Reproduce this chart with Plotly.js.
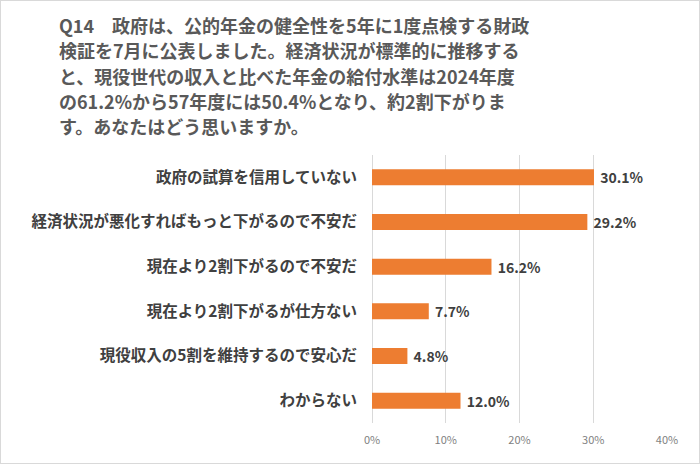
<!DOCTYPE html>
<html><head><meta charset="utf-8">
<script src="https://cdn.plot.ly/plotly-3.0.1.min.js"></script>
<style>
html,body{margin:0;padding:0;background:#fff;}
#chart{width:698px;height:462px;border:1px solid #d9d9d9;}
</style></head>
<body><div id="chart"></div>
<script>
const titleLines = [
  "Q14　政府は、公的年金の健全性を5年に1度点検する財政",
  "検証を7月に公表しました。経済状況が標準的に推移する",
  "と、現役世代の収入と比べた年金の給付水準は2024年度",
  "の61.2%から57年度には50.4%となり、約2割下がりま",
  "す。あなたはどう思いますか。"
];
const categories = [
  "政府の試算を信用していない",
  "経済状況が悪化すればもっと下がるので不安だ",
  "現在より2割下がるので不安だ",
  "現在より2割下がるが仕方ない",
  "現役収入の5割を維持するので安心だ",
  "わからない"
];
const values = [0.301, 0.292, 0.162, 0.077, 0.048, 0.120];
const tickVals = [0, 0.1, 0.2, 0.3, 0.4];

const font = '"Noto Sans CJK JP", "Noto Sans", sans-serif';
const W = 698, H = 462;
const mT = 154, mB = 40, mL = 371, mR = 32;
const plotH = H - mT - mB;
const lineYs = [24, 49, 75, 100, 125];

const annotations = titleLines.map((t, i) => ({
  text: "<b>" + t + "</b>",
  xref: "paper", yref: "paper",
  x: (56 - mL) / (W - mL - mR),
  y: (H - mB - lineYs[i]) / plotH,
  xanchor: "left", yanchor: "middle",
  showarrow: false,
  font: {family: font, size: 18, color: "#595959"}
}));

Plotly.newPlot("chart", [{
  type: "bar",
  orientation: "h",
  x: values,
  y: categories,
  marker: {color: "#ED7D31"},
  texttemplate: "\u00a0%{x:.1%}",
  textposition: "outside",
  constraintext: "none",
  textfont: {family: font, size: 14, color: "#404040", weight: "bold"},
  cliponaxis: false,
  hoverinfo: "skip"
}], {
  width: W, height: H,
  margin: {l: mL, r: mR, t: mT, b: mB},
  paper_bgcolor: "#fff", plot_bgcolor: "#fff",
  bargap: 0.64,
  showlegend: false,
  xaxis: {
    range: [0, 0.4], tickvals: tickVals, tickformat: ".0%",
    showgrid: true, gridcolor: "#d9d9d9", gridwidth: 1,
    zeroline: true, zerolinecolor: "#d9d9d9", zerolinewidth: 1,
    showline: false, ticks: "",
    tickfont: {family: font, size: 11, color: "#7f7f7f"},
    ticklabelstandoff: 9
  },
  yaxis: {
    autorange: "reversed",
    showgrid: false, zeroline: false, showline: false, ticks: "",
    tickfont: {family: font, size: 15.5, color: "#404040", weight: "bold"},
    ticklabelstandoff: 14
  },
  annotations: annotations
}, {displayModeBar: false, staticPlot: true});
</script>
</body></html>
